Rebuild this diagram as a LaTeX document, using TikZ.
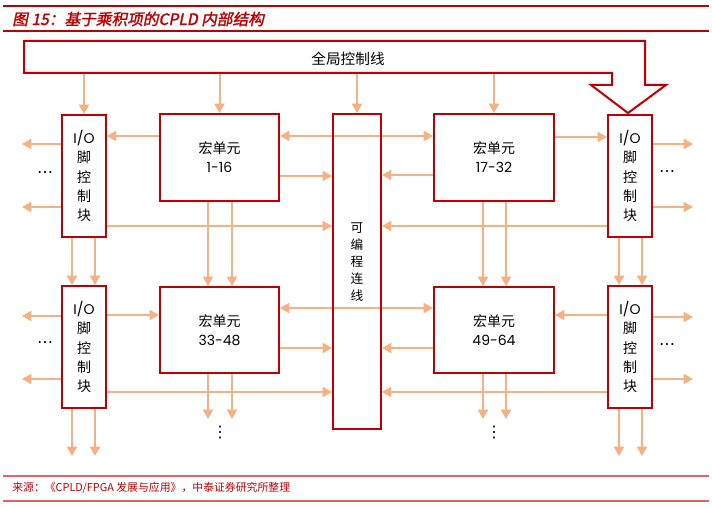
\documentclass[tikz,border=0pt]{standalone}
\usepackage{fontspec}
\setmainfont{Noto Sans CJK SC}
\newfontfamily\titlef{Noto Sans CJK SC}[FakeSlant=0.2,FakeBold=1.8]
\newfontfamily\latf{Poppins}
\newfontfamily\symf{DejaVu Sans}
\usetikzlibrary{arrows.meta,backgrounds}
\definecolor{boxred}{HTML}{C00000}
\definecolor{peach}{HTML}{F4B183}
\definecolor{footred}{HTML}{E06666}
\tikzset{
  blk/.style n args={2}{draw=boxred, line width=1.5pt, minimum width=#1*0.75pt,
    minimum height=#2*0.75pt, inner sep=0pt, align=center},
  iotext/.style={font=\fontsize{10.5}{14.6}\selectfont},
  mctext/.style={font=\fontsize{10.5}{14.25}\selectfont},
  arr/.style={draw=peach, line width=1.5pt, -{Triangle[length=7pt,width=7.5pt]}},
  darr/.style={draw=peach, line width=1.5pt, {Triangle[length=7pt,width=7.5pt]}-{Triangle[length=7pt,width=7.5pt]}},
  dots/.style={inner sep=0pt, text=black, font=\symf\fontsize{12}{12}\selectfont}
}
\begin{document}
\begin{tikzpicture}[x=0.75pt,y=-0.75pt]
\useasboundingbox (0,0) rectangle (712,506);
% header and footer rules
\coordinate (hl1a) at (3,6); \coordinate (hl1b) at (709,6);
\coordinate (hl2a) at (3,31); \coordinate (hl2b) at (709,31);
\coordinate (fl1a) at (3,476); \coordinate (fl1b) at (709,476);
\coordinate (fl2a) at (3,501); \coordinate (fl2b) at (709,501);
\draw[boxred, line width=1.6pt] (hl1a) -- (hl1b);
\draw[boxred, line width=0.8pt] (hl2a) -- (hl2b);
\draw[footred, line width=1pt] (fl1a) -- (fl1b);
\draw[footred, line width=1.2pt] (fl2a) -- (fl2b);
\node[anchor=west, text=boxred, inner sep=0pt, font=\titlef\fontsize{11.75}{13}\selectfont] (title) at (12,19) {图 15：基于乘积项的CPLD 内部结构};
\node[anchor=west, text=boxred, inner sep=0pt, font=\fontsize{8.15}{9}\selectfont] (src) at (12,488) {来源：《CPLD/FPGA 发展与应用》，中泰证券研究所整理};

% global control line (big arrow)
\draw[boxred, line width=1.5pt] (24,41) -- (645,41) -- (645,85) -- (666,85) -- (628,113) -- (591,85) -- (612,85) -- (612,73) -- (24,73) -- cycle;
\node[inner sep=0pt, font=\fontsize{11}{12}\selectfont] (gcl) at (348,59) {全局控制线};
\coordinate (gbot) at (0,73);

% blocks
\node[blk={44}{122}, iotext] (io1) at (84,176) {{\latf I/O}\\脚\\控\\制\\块};
\node[blk={119}{87}, mctext] (m1) at (219.5,157.5) {宏单元\\{\latf 1-16}};
\node[blk={48}{315}] (pi) at (357,271.5) {};
\node[inner sep=0pt, align=center, font=\fontsize{9.5}{12.75}\selectfont] (pitxt) at (357,262) {可\\编\\程\\连\\线};
\node[blk={120}{87}, mctext] (m2) at (494,157.5) {宏单元\\{\latf 17-32}};
\node[blk={44}{122}, iotext] (io2) at (630,176) {{\latf I/O}\\脚\\控\\制\\块};
\node[blk={44}{122}, iotext] (io3) at (84,347) {{\latf I/O}\\脚\\控\\制\\块};
\node[blk={119}{86}, mctext] (m3) at (219.5,330) {宏单元\\{\latf 33-48}};
\node[blk={120}{86}, mctext] (m4) at (494,330) {宏单元\\{\latf 49-64}};
\node[blk={44}{122}, iotext] (io4) at (630,347) {{\latf I/O}\\脚\\控\\制\\块};

% dots
\node[dots] (d1) at (45,175) {⋯};
\node[dots] (d2) at (45,345) {⋯};
\node[dots] (d3) at (667,174) {⋯};
\node[dots] (d4) at (667,347) {⋯};
\node[dots] (d5) at (220,433) {⋮};
\node[dots] (d6) at (494,433) {⋮};

\begin{scope}[on background layer]
% from global control line
\draw[arr] (io1.north |- gbot) -- (io1.north);
\draw[arr] (m1.north |- gbot) -- (m1.north);
\draw[arr] (pi.north |- gbot) -- (pi.north);
\draw[arr] (m2.north |- gbot) -- (m2.north);
% top row
\draw[arr] (m1.west |- 0,136) -- (io1.east |- 0,136);
\draw[arr] (io1.west |- 0,144) -- ++(-39,0);
\draw[arr] (io1.west |- 0,207) -- ++(-39,0);
\draw[arr] (m1.east |- 0,176) -- (pi.west |- 0,176);
\draw[darr] (m1.east |- 0,136) -- (m2.west |- 0,136);
\draw[arr] (io1.east |- 0,226) -- (pi.west |- 0,226);
\draw[arr] (io2.west |- 0,226) -- (pi.east |- 0,226);
\draw[arr] (m2.west |- 0,175) -- (pi.east |- 0,175);
\draw[arr] (m2.east |- 0,137) -- (io2.west |- 0,137);
\draw[arr] (io2.east |- 0,144) -- ++(40,0);
\draw[arr] (io2.east |- 0,207) -- ++(40,0);
% between rows
\draw[arr] (io1.south -| 72,0) -- (io3.north -| 72,0);
\draw[arr] (io1.south -| 95,0) -- (io3.north -| 95,0);
\draw[arr] (m1.south -| 208,0) -- (m3.north -| 208,0);
\draw[arr] (m1.south -| 232,0) -- (m3.north -| 232,0);
\draw[arr] (m2.south -| 483,0) -- (m4.north -| 483,0);
\draw[arr] (m2.south -| 506,0) -- (m4.north -| 506,0);
\draw[arr] (io2.south -| 619,0) -- (io4.north -| 619,0);
\draw[arr] (io2.south -| 642,0) -- (io4.north -| 642,0);
% bottom row
\draw[arr] (io3.west |- 0,316) -- ++(-39,0);
\draw[arr] (io3.west |- 0,379) -- ++(-39,0);
\draw[arr] (io3.east |- 0,315) -- (m3.west |- 0,315);
\draw[darr] (m3.east |- 0,308) -- (m4.west |- 0,308);
\draw[arr] (m3.east |- 0,348) -- (pi.west |- 0,348);
\draw[arr] (io3.east |- 0,392) -- (pi.west |- 0,392);
\draw[arr] (m4.west |- 0,348) -- (pi.east |- 0,348);
\draw[arr] (io4.west |- 0,392) -- (pi.east |- 0,392);
\draw[arr] (io4.west |- 0,315) -- (m4.east |- 0,315);
\draw[arr] (io4.east |- 0,317) -- ++(40,0);
\draw[arr] (io4.east |- 0,379) -- ++(40,0);
% outputs downward
\draw[arr] (io3.south -| 72,0) -- ++(0,47);
\draw[arr] (io3.south -| 95,0) -- ++(0,47);
\draw[arr] (m3.south -| 208,0) -- ++(0,45);
\draw[arr] (m3.south -| 232,0) -- ++(0,45);
\draw[arr] (m4.south -| 483,0) -- ++(0,45);
\draw[arr] (m4.south -| 506,0) -- ++(0,45);
\draw[arr] (io4.south -| 619,0) -- ++(0,47);
\draw[arr] (io4.south -| 642,0) -- ++(0,47);
\end{scope}
\end{tikzpicture}
\end{document}
